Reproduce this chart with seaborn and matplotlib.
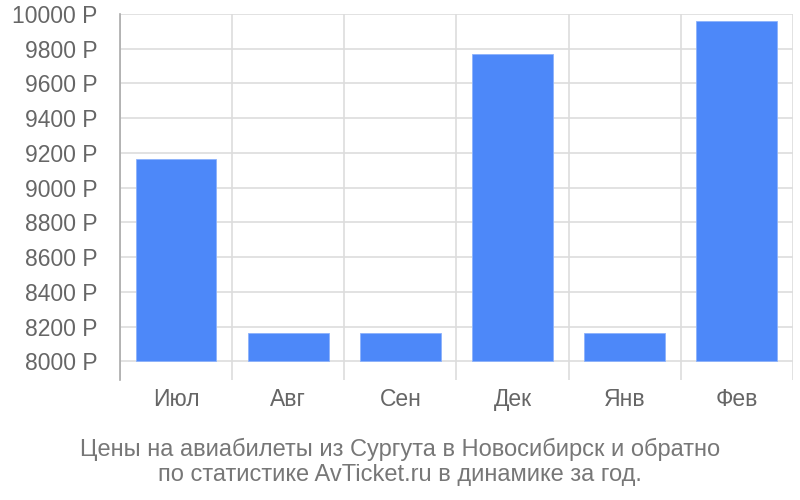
import matplotlib
matplotlib.use("Agg")
from matplotlib import pyplot as plt
from matplotlib.ticker import FixedLocator
import numpy as np
import pandas as pd
import seaborn as sns

# data
months = ["Июл", "Авг", "Сен", "Дек", "Янв", "Фев"]
prices = [9165, 8165, 8165, 9770, 8165, 9960]
base_price = 8000
y_ticks = [8000, 8200, 8400, 8600, 8800, 9000, 9200, 9400, 9600, 9800, 10000]
title_lines = ["Цены на авиабилеты из Сургута в Новосибирск и обратно",
               "по статистике AvTicket.ru в динамике за год."]

sns.set_style("white")
plt.rcParams['font.family'] = ['Liberation Sans', 'DejaVu Sans']

df = pd.DataFrame({"month": months, "price": prices})
df["rise"] = df["price"] - base_price

fig = plt.figure(figsize=(8, 5), dpi=100)
ax = fig.add_axes([0.15, 0.24, 0.841, 0.732])

sns.barplot(data=df, x="month", y="rise", bottom=base_price, color="#4d88f9",
            saturation=1, width=0.72, edgecolor="#8db2fb", linewidth=0.6,
            ax=ax, zorder=3)

grid_col = "#dddddd"
ax.set_ylim(7893, 10000)
ax.set_xlim(-0.5, len(months) - 0.5)
ax.set_yticks(y_ticks)
ax.set_yticklabels([f"{v} Р" for v in y_ticks])
ax.xaxis.set_minor_locator(FixedLocator(np.arange(len(months) + 1) - 0.5))

ax.grid(axis="y", color=grid_col, linewidth=1.2, zorder=0)
ax.grid(axis="x", which="minor", color=grid_col, linewidth=1.2, zorder=0)
ax.tick_params(axis="y", length=14, width=1.2, color=grid_col, pad=2,
               labelsize=16.5, labelcolor="#666666")
ax.tick_params(axis="x", which="major", length=0, pad=6,
               labelsize=16.5, labelcolor="#666666")
ax.tick_params(axis="x", which="minor", length=0)

for side in ["top", "right", "bottom"]:
    ax.spines[side].set_visible(False)
ax.spines["left"].set_color("#aaaaaa")
ax.spines["left"].set_linewidth(1.2)

ax.set_xlabel("")
ax.set_ylabel("")

fig.text(0.5, 0.076, "\n".join(title_lines), ha="center", va="center",
         fontsize=17, color="#777777", linespacing=1.2)

fig.savefig("out.png", dpi=100)
